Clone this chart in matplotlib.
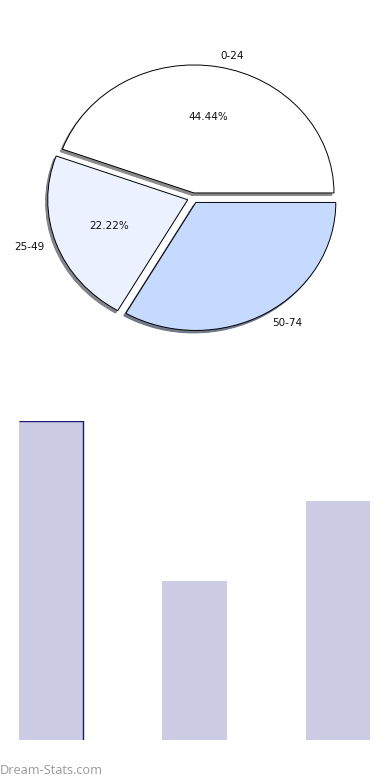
import matplotlib.pyplot as plt

# Dati
labels = ['0-24', '25-49', '50-74']
values = [4, 2, 3]
pie_colors = ['#FFFFFF', '#EBF1FF', '#C6D9FF']
bar_color = '#CCCCE5'

fig = plt.figure(figsize=(3.9, 7.8), dpi=100)

# ---------------------------------------------------- Torta
ax1 = fig.add_axes([0, 400 / 780, 1, 360 / 780])
wedges, texts, autotexts = ax1.pie(values, labels=labels, colors=pie_colors,
                                   explode=[0.04] * 3,
                                   shadow=dict(ox=-0.011, oy=-0.014, shade=0.5, alpha=0.9),
                                   autopct='%1.2f%%', pctdistance=0.6,
                                   labeldistance=1.09, startangle=0,
                                   counterclock=True,
                                   wedgeprops=dict(edgecolor='black', linewidth=0.7),
                                   textprops=dict(fontsize=7.5, color='#111111'))
autotexts[2].set_visible(False)
ax1.set_aspect('auto')
ax1.set_xlim(-193 / 140, (390 - 193) / 140)
ax1.set_ylim(-(380 - 198) / 128, (198 - 20) / 128)
ax1.axis('off')

# ---------------------------------------------------- Barre
ax2 = fig.add_axes([0, 40 / 780, 1, 319 / 780])
x = range(len(values))
bars = ax2.bar(x, values, width=0.446, color=bar_color, linewidth=0)
b = bars[0]
ax2.plot([b.get_x(), b.get_x() + b.get_width(), b.get_x() + b.get_width()],
         [b.get_height(), b.get_height(), 0], color='#1a1a6e', lw=1,
         solid_capstyle='butt')
ax2.set_xlim(-51 / 143.5, (390 - 51) / 143.5)
ax2.set_ylim(0, 4)
ax2.axis('off')

# Watermark
fig.text(0.0, 1 - 770 / 780, 'Dream-Stats.com', fontsize=9.2, color='#999999',
         family='Open Sans', va='center', ha='left')

plt.savefig('out.png', dpi=100)
